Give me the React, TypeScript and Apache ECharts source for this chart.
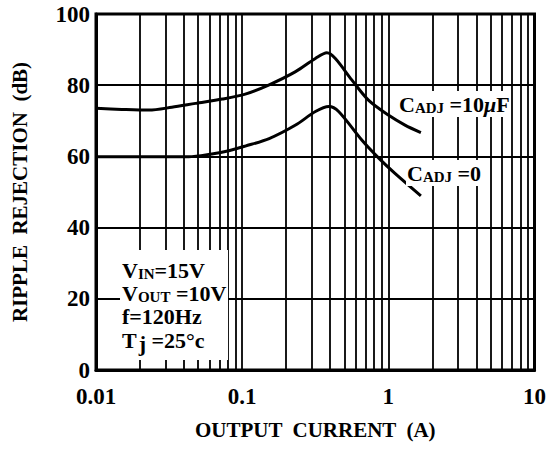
import React, { useEffect, useRef } from "react";
import * as echarts from "echarts";

// Tick labels
const xTickLabels = ["0.01", "0.1", "1", "10"];
const yTickValues = [0, 20, 40, 60, 80, 100];

// Log-grid minor lines (2..9 of each decade)
const minorGridX = [
  0.02, 0.03, 0.04, 0.05, 0.06, 0.07, 0.08, 0.09,
  0.2, 0.3, 0.4, 0.5, 0.6, 0.7, 0.8, 0.9,
  2, 3, 4, 5, 6, 7, 8, 9,
];

// C_ADJ = 10uF curve
const currentHi = [0.01, 0.015, 0.023, 0.033, 0.048, 0.073, 0.105, 0.153, 0.232, 0.317, 0.38, 0.434, 0.562, 0.731, 1.0, 1.3, 1.67];
const rejectionHi = [73.5, 73.2, 73.0, 73.8, 74.9, 76.1, 77.5, 80.1, 83.8, 87.5, 89.1, 87.5, 81.5, 75.8, 71.6, 68.8, 66.7];

// C_ADJ = 0 curve
const currentLo = [0.01, 0.02, 0.043, 0.062, 0.081, 0.105, 0.153, 0.232, 0.317, 0.392, 0.457, 0.658, 0.86, 1.11, 1.67];
const rejectionLo = [59.9, 59.9, 59.9, 60.7, 61.6, 62.9, 65.0, 68.8, 72.6, 74.0, 72.6, 64.6, 59.5, 55.2, 48.9];

const FONT = "Liberation Serif";

export default function App() {
  const ref = useRef<HTMLDivElement>(null);
  useEffect(() => {
    const chart = echarts.init(ref.current!, null, { renderer: "svg" });
    const hi = currentHi.map((x, i) => [x, rejectionHi[i]]);
    const lo = currentLo.map((x, i) => [x, rejectionLo[i]]);
    const big = { fontFamily: FONT, fontWeight: "bold", fontSize: 22, color: "#000" };
    const sub = { fontFamily: FONT, fontWeight: "bold", fontSize: 15, color: "#000", padding: [7, 0, 0, 0] };
    chart.setOption({
      animation: false,
      backgroundColor: "#fff",
      grid: {
        left: 96,
        right: 12,
        top: 14,
        bottom: 89,
        show: true,
        borderColor: "#000",
        borderWidth: 3,
        backgroundColor: "transparent",
        z: 5,
      },
      xAxis: {
        type: "log",
        logBase: 10,
        min: 0.01,
        max: 10,
        axisLine: { show: true, lineStyle: { color: "#000", width: 3 } },
        axisTick: { show: false },
        splitLine: { show: true, lineStyle: { color: "#000", width: 1.8 } },
        axisLabel: {
          margin: 15,
          fontFamily: FONT,
          fontWeight: "bold",
          fontSize: 23,
          color: "#000",
          formatter: (v: number) => xTickLabels[Math.round(Math.log10(v)) + 2] ?? "",
        },
        name: "OUTPUT  CURRENT  (A)",
        nameLocation: "middle",
        nameGap: 49,
        nameTextStyle: { fontFamily: FONT, fontWeight: "bold", fontSize: 21, color: "#000" },
      },
      yAxis: {
        type: "value",
        min: 0,
        max: 100,
        interval: 20,
        axisLine: { show: true, lineStyle: { color: "#000", width: 3 } },
        axisTick: { show: false },
        splitLine: { show: true, lineStyle: { color: "#000", width: 1.8 } },
        axisLabel: {
          margin: 6,
          fontFamily: FONT,
          fontWeight: "bold",
          fontSize: 23,
          color: "#000",
          formatter: (v: number) => (yTickValues.includes(v) ? String(v) : ""),
        },
        name: "RIPPLE  REJECTION  (dB)",
        nameLocation: "middle",
        nameGap: 66,
        nameTextStyle: { fontFamily: FONT, fontWeight: "bold", fontSize: 21, color: "#000" },
      },
      series: [
        {
          type: "line",
          data: hi,
          showSymbol: false,
          smooth: 0.3,
          lineStyle: { color: "#000", width: 3 },
          z: 4,
          markLine: {
            silent: true,
            symbol: ["none", "none"],
            label: { show: false },
            lineStyle: { color: "#000", width: 1.8, type: "solid" },
            emphasis: { disabled: true },
            data: minorGridX.map((v) => ({ xAxis: v })),
          },
        },
        {
          type: "line",
          data: lo,
          showSymbol: false,
          smooth: 0.3,
          lineStyle: { color: "#000", width: 3 },
          z: 4,
        },
      ],
      graphic: [
        {
          type: "rect",
          z: 50,
          shape: { x: 120, y: 250, width: 108, height: 110 },
          style: { fill: "#fff" },
        },
        {
          type: "text",
          z: 51,
          x: 122,
          y: 270,
          style: {
            text: "{b|V}{s|IN}{b|=15V}",
            verticalAlign: "middle",
            rich: { b: big, s: sub },
          },
        },
        {
          type: "text",
          z: 51,
          x: 122,
          y: 293,
          style: {
            text: "{b|V}{s|OUT}{b| =10V}",
            verticalAlign: "middle",
            rich: { b: big, s: sub },
          },
        },
        {
          type: "text",
          z: 51,
          x: 122,
          y: 316,
          style: {
            text: "{b|f=120Hz}",
            verticalAlign: "middle",
            rich: { b: big },
          },
        },
        {
          type: "text",
          z: 51,
          x: 122,
          y: 340,
          style: {
            text: "{b|T}{j|j}{b| =25°c}",
            verticalAlign: "middle",
            rich: { b: big, j: { ...big, padding: [6, 0, 0, 2] } },
          },
        },
        {
          type: "text",
          z: 51,
          x: 398,
          y: 104,
          style: {
            text: "{b|C}{s|ADJ}{b| =10}{m|μ}{b|F}",
            verticalAlign: "middle",
            backgroundColor: "#fff",
            padding: [2, 1, 2, 1],
            rich: { b: big, s: sub, m: { ...big, fontStyle: "italic" } },
          },
        },
        {
          type: "text",
          z: 51,
          x: 406,
          y: 173,
          style: {
            text: "{b|C}{s|ADJ}{b| =0}",
            verticalAlign: "middle",
            backgroundColor: "#fff",
            padding: [2, 1, 2, 1],
            rich: { b: big, s: sub },
          },
        },
      ],
    });
    return () => chart.dispose();
  }, []);
  return <div ref={ref} style={{ position: "fixed", left: 0, top: 0, width: 549, height: 459 }} />;
}
